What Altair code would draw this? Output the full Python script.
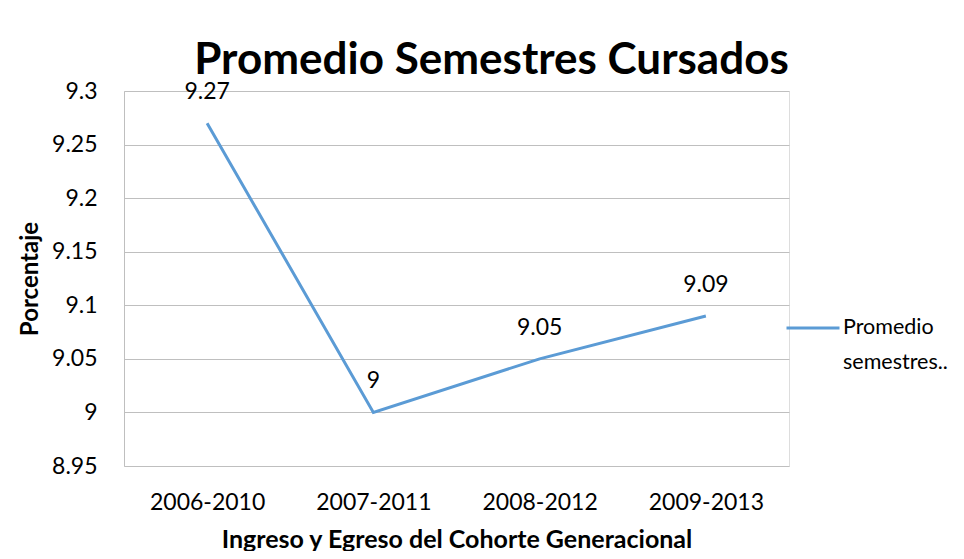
import altair as alt
import pandas as pd

cohortes = ["2006-2010", "2007-2011", "2008-2012", "2009-2013"]
promedios = [9.27, 9.0, 9.05, 9.09]
etiquetas = ["9.27", "9", "9.05", "9.09"]
serie = "Promedio semestres cursados"
y_ticks = [8.95, 9.0, 9.05, 9.1, 9.15, 9.2, 9.25, 9.3]

df = pd.DataFrame({
    "Cohorte": cohortes,
    "Promedio": promedios,
    "Etiqueta": etiquetas,
    "Serie": [serie] * len(cohortes),
})

FONT = "Lato"
BLUE = "#5B9BD5"
GRID = "#bfbfbf"

x_enc = alt.X(
    "Cohorte:N",
    sort=cohortes,
    scale=alt.Scale(type="point", padding=0.5),
    axis=alt.Axis(
        title="Ingreso y Egreso del Cohorte Generacional",
        labelAngle=0,
        ticks=False,
        tickSize=0,
        domain=False,
        grid=False,
        labelPadding=25,
        labelFontSize=23,
        labelFont=FONT,
        labelColor="#000000",
        titleFont=FONT,
        titleFontSize=25,
        titleFontWeight="bold",
        titleColor="#000000",
        titlePadding=13,
    ),
)

y_enc = alt.Y(
    "Promedio:Q",
    scale=alt.Scale(domain=[8.95, 9.3], nice=False, zero=False),
    axis=alt.Axis(
        title="Porcentaje",
        values=y_ticks,
        format=".2~f",
        ticks=False,
        tickSize=0,
        domain=True,
        domainColor=GRID,
        domainWidth=1,
        grid=True,
        gridColor=GRID,
        gridWidth=1,
        labelPadding=27,
        labelFontSize=23,
        labelFont=FONT,
        labelColor="#000000",
        titleFont=FONT,
        titleFontSize=24,
        titleFontWeight="bold",
        titleColor="#000000",
        titlePadding=9,
    ),
)

line = alt.Chart(df).mark_line(strokeWidth=3).encode(
    x=x_enc,
    y=y_enc,
    color=alt.Color(
        "Serie:N",
        scale=alt.Scale(range=[BLUE]),
        legend=alt.Legend(
            title=None,
            orient="none",
            legendX=661,
            legendY=209,
            symbolType="stroke",
            symbolSize=2809,
            symbolStrokeWidth=3,
            labelFont=FONT,
            labelFontSize=21.5,
            labelColor="#000000",
            labelLimit=0,
            labelOffset=2,
            padding=0,
            labelExpr="['Promedio', 'semestres..']",
        ),
    ),
)

labels = alt.Chart(df).mark_text(
    dy=-31, fontSize=23, font=FONT, color="#000000"
).encode(x=x_enc, y=y_enc, text="Etiqueta:N")

chart = (
    alt.layer(line, labels)
    .properties(
        width=665,
        height=375,
        autosize=alt.AutoSizeParams(type="none"),
        padding={"left": 116, "top": 83, "right": 167, "bottom": 85},
        title=alt.TitleParams(
            text="Promedio Semestres Cursados",
            font=FONT,
            fontSize=44,
            fontWeight="bold",
            color="#000000",
            anchor="middle",
            frame="group",
            dx=35,
            dy=7,
        ),
    )
    .configure_view(stroke=None)
    .configure(background="#ffffff", style={"guide-label": {"lineHeight": 35}})
)

chart.save("out.html", embed_options={"renderer": "svg", "actions": False})
